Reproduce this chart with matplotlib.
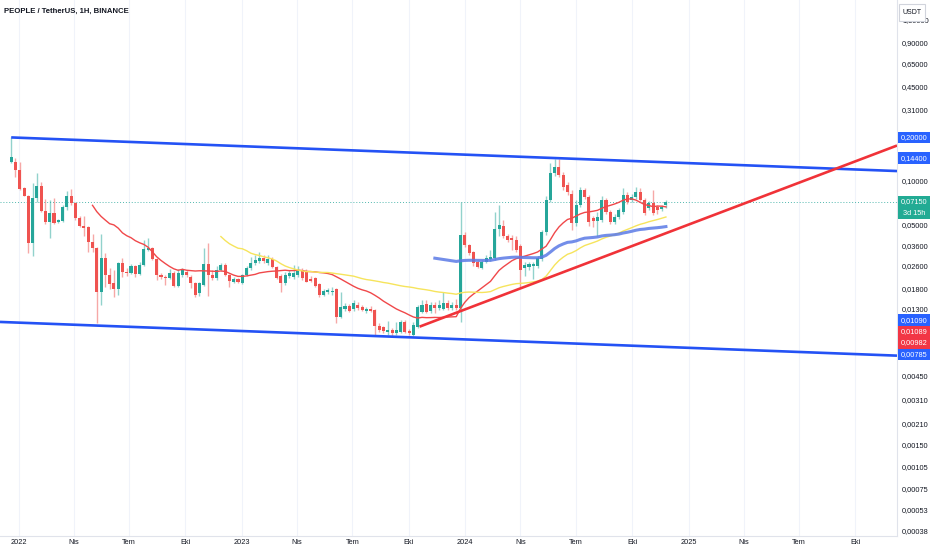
import numpy as np
import pandas as pd
import matplotlib
matplotlib.use("Agg")
import matplotlib.pyplot as plt
import matplotlib.dates as mdates
import matplotlib.ticker as mticker
from matplotlib.patches import Rectangle

# PEOPLE/USDT weekly candles
first_week = "2021-12-20"
opens = [0.135, 0.135, 0.119, 0.0894, 0.0787, 0.0373, 0.0763, 0.0923, 0.0620, 0.0520,
         0.0601, 0.0520, 0.0529, 0.0661, 0.0787, 0.0705, 0.0555, 0.0488, 0.0480, 0.0379,
         0.0344, 0.0170, 0.0294, 0.0224, 0.0197, 0.0179, 0.0271, 0.0234, 0.0231, 0.0258,
         0.0227, 0.0262, 0.0333, 0.0344, 0.0289, 0.0224, 0.0217, 0.0214, 0.0231, 0.0188,
         0.0224, 0.0234, 0.0217, 0.0197, 0.0168, 0.0191, 0.0266, 0.0224, 0.0214, 0.0242,
         0.0262, 0.0224, 0.0200, 0.0210, 0.0197, 0.0224, 0.0250, 0.0271, 0.0280, 0.0294,
         0.0271, 0.0289, 0.0254, 0.0220, 0.0197, 0.0220, 0.0217, 0.0224, 0.0242, 0.0238,
         0.0210, 0.0214, 0.0194, 0.0163, 0.0170, 0.0170, 0.0179, 0.0114, 0.0130,
         0.0137, 0.0130, 0.0139, 0.0135, 0.0126, 0.0130, 0.0128, 0.00994, 0.00978, 0.00903,
         0.00932, 0.00888, 0.00903, 0.0106, 0.00917, 0.0086, 0.00978, 0.0124, 0.0141, 0.0126,
         0.0139, 0.0133, 0.0130, 0.0143, 0.0133, 0.0139, 0.0133, 0.0423, 0.0361, 0.0323,
         0.0275, 0.0250, 0.0275, 0.0289, 0.0294, 0.0465, 0.0488, 0.0416, 0.0403, 0.0391,
         0.0355, 0.0250, 0.0254, 0.0258, 0.0258, 0.0289, 0.0444, 0.0739, 0.1135, 0.1250,
         0.1100, 0.0938, 0.0812, 0.0512, 0.0682, 0.0866, 0.0775, 0.0555, 0.0529, 0.0537,
         0.0739, 0.0610, 0.0520, 0.0564, 0.0610, 0.0800, 0.0739, 0.0775, 0.0839, 0.0739,
         0.0650, 0.0705, 0.0661, 0.0640, 0.0682]
highs = [0.200, 0.144, 0.135, 0.0908, 0.0800, 0.0969, 0.1135, 0.0984, 0.0751, 0.0739,
         0.0763, 0.0546, 0.0682, 0.0852, 0.0880, 0.0716, 0.0573, 0.0573, 0.0488, 0.0430,
         0.0350, 0.0430, 0.0317, 0.0250, 0.0242, 0.0275, 0.0294, 0.0250, 0.0266, 0.0262,
         0.0275, 0.0391, 0.0403, 0.0350, 0.0294, 0.0231, 0.0224, 0.0246, 0.0238, 0.0246,
         0.0250, 0.0242, 0.0224, 0.0200, 0.0200, 0.0344, 0.0373, 0.0242, 0.0258, 0.0271,
         0.0271, 0.0227, 0.0217, 0.0214, 0.0227, 0.0258, 0.0298, 0.0308, 0.0323, 0.0308,
         0.0308, 0.0298, 0.0258, 0.0227, 0.0234, 0.0242, 0.0262, 0.0258, 0.0250, 0.0246,
         0.0220, 0.0217, 0.0197, 0.0179, 0.0182, 0.0185, 0.0182, 0.0170, 0.0143,
         0.0141, 0.0150, 0.0145, 0.0139, 0.0135, 0.0137, 0.0130, 0.0104, 0.00994, 0.0107,
         0.00963, 0.0106, 0.0109, 0.0109, 0.00948, 0.0106, 0.0139, 0.0150, 0.0150, 0.0145,
         0.0145, 0.0150, 0.0170, 0.0150, 0.0145, 0.0152, 0.0716, 0.0444, 0.0367, 0.0328,
         0.0284, 0.0284, 0.0308, 0.0333, 0.0610, 0.0682, 0.0537, 0.0430, 0.0423, 0.0416,
         0.0367, 0.0275, 0.0275, 0.0275, 0.0303, 0.0458, 0.0787, 0.1332, 0.1419, 0.1419,
         0.1154, 0.0984, 0.0866, 0.0739, 0.0908, 0.0894, 0.0800, 0.0573, 0.0610, 0.0787,
         0.0763, 0.0630, 0.0591, 0.0650, 0.0894, 0.0839, 0.0812, 0.0908, 0.0894, 0.0763,
         0.0727, 0.0866, 0.0682, 0.0682, 0.0739]
lows = [0.133, 0.1065, 0.0866, 0.0787, 0.0317, 0.0303, 0.0716, 0.0610, 0.0504, 0.0403,
        0.0504, 0.0512, 0.0520, 0.0630, 0.0682, 0.0537, 0.0480, 0.0416, 0.0323, 0.0323,
        0.0104, 0.0139, 0.0185, 0.0179, 0.0158, 0.0163, 0.0217, 0.0220, 0.0227, 0.0217,
        0.0224, 0.0258, 0.0328, 0.0284, 0.0207, 0.0210, 0.0191, 0.0210, 0.0185, 0.0185,
        0.0217, 0.0217, 0.0182, 0.0158, 0.0160, 0.0188, 0.0160, 0.0207, 0.0207, 0.0238,
        0.0220, 0.0185, 0.0197, 0.0197, 0.0194, 0.0220, 0.0242, 0.0262, 0.0271, 0.0271,
        0.0262, 0.0250, 0.0210, 0.0170, 0.0191, 0.0214, 0.0210, 0.0217, 0.0207, 0.0200,
        0.0200, 0.0185, 0.0158, 0.0160, 0.0165, 0.0163, 0.0104, 0.0112, 0.0126,
        0.0124, 0.0126, 0.0128, 0.0126, 0.0122, 0.0124, 0.0086, 0.00903, 0.00888, 0.0086,
        0.00846, 0.0086, 0.00888, 0.00888, 0.0086, 0.00846, 0.00963, 0.0122, 0.0122, 0.0122,
        0.0122, 0.0128, 0.0128, 0.0128, 0.0128, 0.0128, 0.0106, 0.0350, 0.0308, 0.0258,
        0.0250, 0.0246, 0.0271, 0.0280, 0.0284, 0.0416, 0.0403, 0.0379, 0.0333, 0.0323,
        0.0185, 0.0220, 0.0242, 0.0210, 0.0250, 0.0280, 0.0423, 0.0716, 0.1083, 0.1065,
        0.0866, 0.0800, 0.0458, 0.0488, 0.0661, 0.0751, 0.0488, 0.0480, 0.0416, 0.0520,
        0.0591, 0.0504, 0.0504, 0.0546, 0.0591, 0.0693, 0.0716, 0.0751, 0.0727, 0.0582,
        0.0630, 0.0582, 0.0591, 0.0620, 0.0650]
closes = [0.147, 0.119, 0.0880, 0.0787, 0.0373, 0.0763, 0.0923, 0.0620, 0.0520, 0.0601,
          0.0512, 0.0537, 0.0661, 0.0787, 0.0705, 0.0555, 0.0488, 0.0473, 0.0379, 0.0344,
          0.0170, 0.0294, 0.0224, 0.0194, 0.0179, 0.0271, 0.0234, 0.0231, 0.0258, 0.0227,
          0.0262, 0.0339, 0.0344, 0.0289, 0.0224, 0.0217, 0.0214, 0.0231, 0.0188, 0.0231,
          0.0242, 0.0224, 0.0197, 0.0163, 0.0197, 0.0266, 0.0224, 0.0214, 0.0242, 0.0262,
          0.0224, 0.0204, 0.0210, 0.0200, 0.0224, 0.0250, 0.0271, 0.0284, 0.0294, 0.0280,
          0.0289, 0.0254, 0.0214, 0.0197, 0.0224, 0.0231, 0.0231, 0.0242, 0.0214, 0.0200,
          0.0204, 0.0188, 0.0163, 0.0173, 0.0176, 0.0173, 0.0114, 0.0135, 0.0137,
          0.0126, 0.0143, 0.0133, 0.0128, 0.0130, 0.0126, 0.00994, 0.00932, 0.00917, 0.00932,
          0.00888, 0.00932, 0.0106, 0.00903, 0.00888, 0.0101, 0.0135, 0.0139, 0.0124, 0.0139,
          0.0133, 0.0139, 0.0143, 0.0133, 0.0139, 0.0133, 0.0423, 0.0361, 0.0317, 0.0271,
          0.0254, 0.0275, 0.0294, 0.0298, 0.0465, 0.0496, 0.0416, 0.0391, 0.0391, 0.0333,
          0.0242, 0.0262, 0.0266, 0.0266, 0.0294, 0.0444, 0.0739, 0.1135, 0.1250, 0.1100,
          0.0908, 0.0839, 0.0512, 0.0682, 0.0866, 0.0775, 0.0520, 0.0529, 0.0564, 0.0739,
          0.0610, 0.0520, 0.0564, 0.0630, 0.0800, 0.0716, 0.0775, 0.0839, 0.0739, 0.0601,
          0.0705, 0.0601, 0.0630, 0.0661, 0.0715]

# axis ticks
price_ticks = [1.3, 0.9, 0.65, 0.45, 0.31, 0.1, 0.05, 0.036, 0.026, 0.018, 0.013,
               0.0045, 0.0031, 0.0021, 0.0015, 0.00105, 0.00075, 0.00053, 0.00038]
month_ticks = pd.date_range("2022-01-01", "2025-10-01", freq="QS")
month_labels = ["2022", "Nis", "Tem", "Eki", "2023", "Nis", "Tem", "Eki",
                "2024", "Nis", "Tem", "Eki", "2025", "Nis", "Tem", "Eki"]

# drawn trend lines (anchor date, price)
upper_line = [("2021-12-20", 0.2), ("2024-05-27", 0.144)]
lower_line = [("2021-09-13", 0.0109), ("2024-02-27", 0.00785)]
rise_line = [("2023-10-19", 0.00982), ("2023-11-16", 0.01089)]

# price tags on the right scale
tag_values = [0.2, 0.144, 0.0109, 0.01089, 0.00982, 0.00785]
tag_colors = ["#2962ff", "#2962ff", "#2962ff", "#f23645", "#f23645", "#2962ff"]
countdown = "3d 15h"

FONT = "Liberation Sans"
FS = 5.3

W, H = 932, 550
fig = plt.figure(figsize=(W / 100, H / 100), dpi=100, facecolor="white")
ax = fig.add_axes([0, 14 / H, 897 / W, 1 - 14 / H])
ax.set_yscale("log")
ax.set_ylim(0.00035, 1.785)
x_left = mdates.date2num(pd.Timestamp("2021-12-01 16:00"))
x_right = mdates.date2num(pd.Timestamp("2025-12-08"))
ax.set_xlim(x_left, x_right)

df = pd.DataFrame(dict(open=opens, high=highs, low=lows, close=closes),
                  index=pd.date_range(first_week, periods=len(closes), freq="7D"))
xs = mdates.date2num(df.index.to_pydatetime())
up = (df.close >= df.open).values
cols = np.where(up, "#26a69a", "#ef5350")

# candles
ax.vlines(xs, df.low, df.high, colors=cols, lw=1, alpha=0.5, zorder=3)
lo = np.minimum(df.open, df.close).values
hi = np.maximum(np.maximum(df.open, df.close).values, lo * 1.02)
ax.bar(xs, hi - lo, bottom=lo, width=5, color=cols, lw=0, zorder=4)


def ema(values, n):
    # seeded with the simple average of the first n closes
    out = np.full(len(values), np.nan)
    out[n - 1] = np.mean(values[:n])
    a = 2 / (n + 1)
    for i in range(n, len(values)):
        out[i] = a * values[i] + (1 - a) * out[i - 1]
    return out


c = np.array(closes)
ax.plot(xs, df.close.rolling(20).mean(), color="#f0484a", lw=1.0, zorder=5)
ax.plot(xs, df.close.rolling(50).mean(), color="#f6e45c", lw=1.0, zorder=5)
ax.plot(xs, ema(c, 100), color="#5b7ae6", lw=2.2, alpha=0.85, zorder=5)


def line_pts(anchors, t_start, t_end):
    (d1, p1), (d2, p2) = anchors
    t1 = mdates.date2num(pd.Timestamp(d1))
    t2 = mdates.date2num(pd.Timestamp(d2))
    k = (np.log10(p2) - np.log10(p1)) / (t2 - t1)
    ts = np.array([t_start, t_end])
    return ts, 10 ** (np.log10(p1) + k * (ts - t1))


t_up = mdates.date2num(pd.Timestamp(upper_line[0][0]))
t_rise = mdates.date2num(pd.Timestamp(rise_line[0][0]))
ax.plot(*line_pts(upper_line, t_up, x_right), color="#2452f5", lw=1.9, zorder=6, solid_capstyle="butt")
ax.plot(*line_pts(lower_line, x_left, x_right), color="#2452f5", lw=1.9, zorder=6, solid_capstyle="butt")
ax.plot(*line_pts(rise_line, t_rise, x_right), color="#f03238", lw=1.9, zorder=6, solid_capstyle="butt")

# last price line
ax.axhline(closes[-1], color="#26a69a", lw=0.7, ls=(0, (1, 2)), alpha=0.8, zorder=2)

# axes look
ax.yaxis.tick_right()
ax.set_yticks(price_ticks)
ax.set_yticklabels([f"{v:.5f}".replace(".", ",") for v in price_ticks])
ax.yaxis.set_minor_locator(mticker.NullLocator())
ax.set_xticks(mdates.date2num(month_ticks.to_pydatetime()))
ax.set_xticklabels(month_labels)
ax.tick_params(axis="y", length=0, labelsize=FS, colors="#131722", pad=3.6)
ax.tick_params(axis="x", length=0, labelsize=FS, colors="#131722", pad=2)
for lab in ax.get_xticklabels() + ax.get_yticklabels():
    lab.set_fontfamily(FONT)
ax.grid(axis="x", color="#f0f3fa", lw=0.8)
ax.set_axisbelow(True)
ax.spines["top"].set_visible(False)
ax.spines["left"].set_visible(False)
ax.spines["right"].set_color("#e0e3eb")
ax.spines["bottom"].set_color("#e0e3eb")

fig.text(4 / W, 1 - 11 / H, "PEOPLE / TetherUS, 1H, BINANCE", fontsize=5.6, weight="bold",
         family=FONT, color="#131722", va="center")

# USDT box
fig.add_artist(Rectangle((899 / W, 1 - 21 / H), 26 / W, 17 / H, transform=fig.transFigure,
                         fc="white", ec="#d1d4dc", lw=0.8, zorder=10))
fig.text(912 / W, 1 - 12.5 / H, "USDT", fontsize=5, family=FONT, color="#131722",
         ha="center", va="center", zorder=11)


def img_y(p):
    return H - ax.transData.transform((xs[0], p))[1]


def tag(y, text, color, h=11.4):
    fig.add_artist(Rectangle((898 / W, (H - y - h / 2) / H), 32 / W, h / H,
                             transform=fig.transFigure, fc=color, ec="none", zorder=10))
    fig.text(914 / W, (H - y) / H, text, color="white", fontsize=FS, family=FONT,
             ha="center", va="center", zorder=11)


prev = -100
for v, col in zip(tag_values, tag_colors):
    yy = max(img_y(v), prev + 11.4)
    tag(yy, f"{v:.5f}".replace(".", ","), col)
    prev = yy

# last price with countdown
yl = img_y(closes[-1])
fig.add_artist(Rectangle((898 / W, (H - yl - 17) / H), 32 / W, 23 / H,
                         transform=fig.transFigure, fc="#22ab94", ec="none", zorder=10))
fig.text(914 / W, (H - yl) / H, f"{closes[-1]:.5f}".replace(".", ","), color="white",
         fontsize=FS, family=FONT, ha="center", va="center", zorder=11)
fig.text(914 / W, (H - yl - 11) / H, countdown, color="white",
         fontsize=FS, family=FONT, ha="center", va="center", zorder=11)

fig.savefig("out.png", dpi=100, facecolor="white")
